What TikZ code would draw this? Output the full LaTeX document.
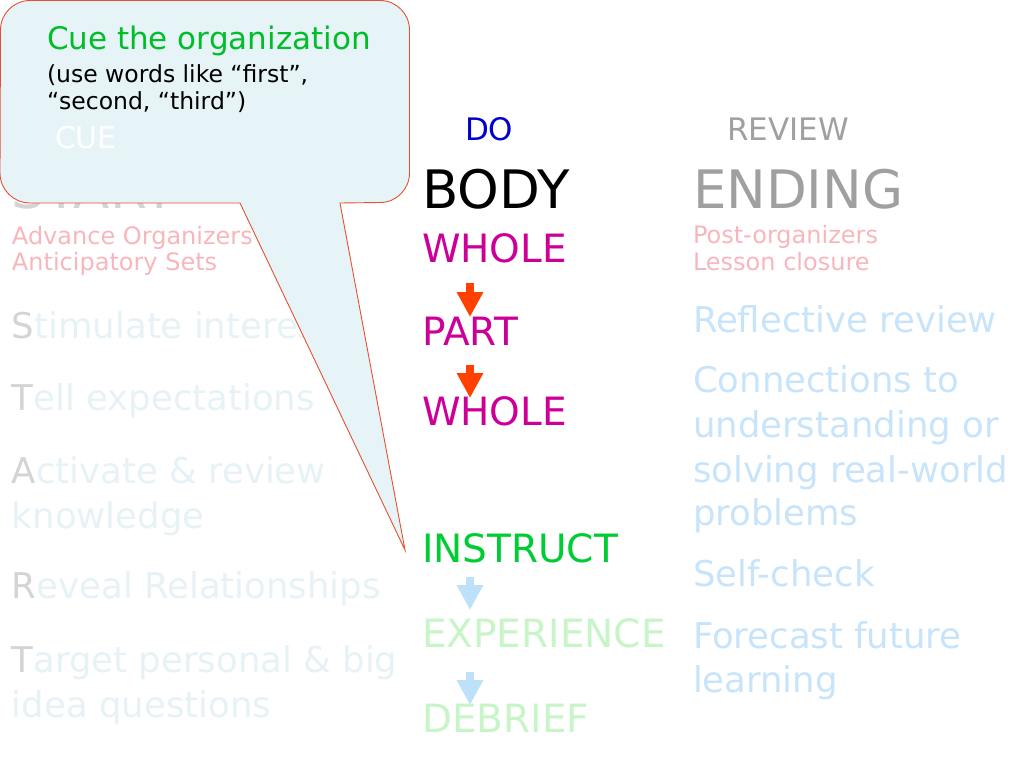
\documentclass[tikz,border=0pt]{standalone}
\usepackage{fontspec}
\setmainfont{DejaVu Sans}
\usetikzlibrary{arrows.meta}
\definecolor{pinkt}{RGB}{248,182,188}
\definecolor{lgrey}{RGB}{212,212,212}
\definecolor{faint}{RGB}{230,242,245}
\definecolor{rblue}{RGB}{200,228,250}
\definecolor{hgrey}{RGB}{160,160,160}
\definecolor{magent}{RGB}{204,0,153}
\definecolor{redar}{RGB}{255,64,0}
\definecolor{greenI}{RGB}{0,204,51}
\definecolor{lgreen}{RGB}{200,245,200}
\definecolor{blar}{RGB}{190,225,250}
\definecolor{doblue}{RGB}{0,0,204}
\definecolor{cfill}{RGB}{230,244,247}
\definecolor{cborder}{RGB}{230,80,50}
\definecolor{cuegreen}{RGB}{0,190,40}
\newcommand{\fs}[1]{\fontsize{#1}{#1}\selectfont}
\tikzset{
  txt/.style={anchor=base west, inner sep=0pt, outer sep=0pt},
  small/.style={txt, font=\fs{24}},
  mid/.style={txt, font=\fs{35.5}},
  caps/.style={txt, font=\fs{39}},
  big/.style={txt, font=\fs{53}},
  head/.style={txt, font=\fs{31}},
  redarrow/.style={draw=redar, line width=8pt, -{Triangle[width=25pt,length=25pt]}},
  bluearrow/.style={draw=blar, line width=8pt, -{Triangle[width=25pt,length=25pt]}},
}
\begin{document}
\begin{tikzpicture}[x=1pt,y=1pt]
\useasboundingbox (0,0) rectangle (1024,-768);
% left column
\node[big, text=lgrey] (start) at (12,-208) {START};
\node[small, text=pinkt] (adv) at (12,-244) {Advance Organizers};
\node[small, text=pinkt] (ant) at (12,-270) {Anticipatory Sets};
\node[mid, text=faint] (stim) at (12,-338) {\textcolor{lgrey}{S}timulate interest};
\node[mid, text=faint] (tell) at (12,-410) {\textcolor{lgrey}{T}ell expectations};
\node[mid, text=faint] (act) at (12,-483) {\textcolor{lgrey}{A}ctivate \& review};
\node[mid, text=faint] (know) at (12,-528) {knowledge};
\node[mid, text=faint] (rev) at (12,-598) {\textcolor{lgrey}{R}eveal Relationships};
\node[mid, text=faint] (targ) at (12,-672) {\textcolor{lgrey}{T}arget personal \& big};
\node[mid, text=faint] (idea) at (12,-717) {idea questions};
% middle column
\node[head, text=doblue] (do) at (465,-140) {DO};
\node[big, text=black] (body) at (422,-208) {BODY};
\node[caps, text=magent] (whole1) at (422,-262) {WHOLE};
\node[caps, text=magent] (part) at (422,-345) {PART};
\node[caps, text=magent] (whole2) at (422,-425) {WHOLE};
\node[caps, text=greenI] (instr) at (422,-562) {INSTRUCT};
\node[caps, text=lgreen] (exper) at (422,-647) {EXPERIENCE};
\node[caps, text=lgreen] (debr) at (422,-732) {DEBRIEF};
\coordinate (a1s) at (470,-283); \coordinate (a1e) at (470,-317);
\coordinate (a2s) at (470,-365); \coordinate (a2e) at (470,-398);
\coordinate (a3s) at (470,-577); \coordinate (a3e) at (470,-610);
\coordinate (a4s) at (470,-672); \coordinate (a4e) at (470,-705);
\draw[redarrow] (a1s) -- (a1e);
\draw[redarrow] (a2s) -- (a2e);
\draw[bluearrow] (a3s) -- (a3e);
\draw[bluearrow] (a4s) -- (a4e);
% right column
\node[head, text=hgrey] (review) at (727,-140) {REVIEW};
\node[big, text=hgrey] (ending) at (693,-208) {ENDING};
\node[small, text=pinkt] (post) at (693,-243) {Post-organizers};
\node[small, text=pinkt] (less) at (693,-270) {Lesson closure};
\node[mid, text=rblue] (refl) at (693,-332) {Reflective review};
\node[mid, text=rblue] (conn) at (693,-392) {Connections to};
\node[mid, text=rblue] (und) at (693,-437) {understanding or};
\node[mid, text=rblue] (solv) at (693,-482) {solving real-world};
\node[mid, text=rblue] (prob) at (693,-525) {problems};
\node[mid, text=rblue] (self) at (693,-586) {Self-check};
\node[mid, text=rblue] (fore) at (693,-648) {Forecast future};
\node[mid, text=rblue] (learn) at (693,-692) {learning};
% callout
\draw[fill=cfill, draw=cborder, line width=0.9pt]
  (240,-203) -- (30,-203) arc[start angle=270,end angle=180,radius=30]
  -- (0.5,-30) arc[start angle=180,end angle=90,radius=29.5]
  -- (380,-0.5) arc[start angle=90,end angle=0,radius=29.5]
  -- (409.5,-173) arc[start angle=0,end angle=-90,radius=29.5]
  -- (340,-203) -- (405,-550) -- cycle;
\node[txt, font=\fs{31}, text=cuegreen] (cue1) at (47,-49) {Cue the organization};
\node[txt, font=\fs{23.5}, text=black] (cue2) at (47,-82) {(use words like “first”,};
\node[txt, font=\fs{23.5}, text=black] (cue3) at (47,-109) {“second, “third”)};
\node[txt, font=\fs{30}, text=white] (cue) at (55,-148) {CUE};
\end{tikzpicture}
\end{document}
